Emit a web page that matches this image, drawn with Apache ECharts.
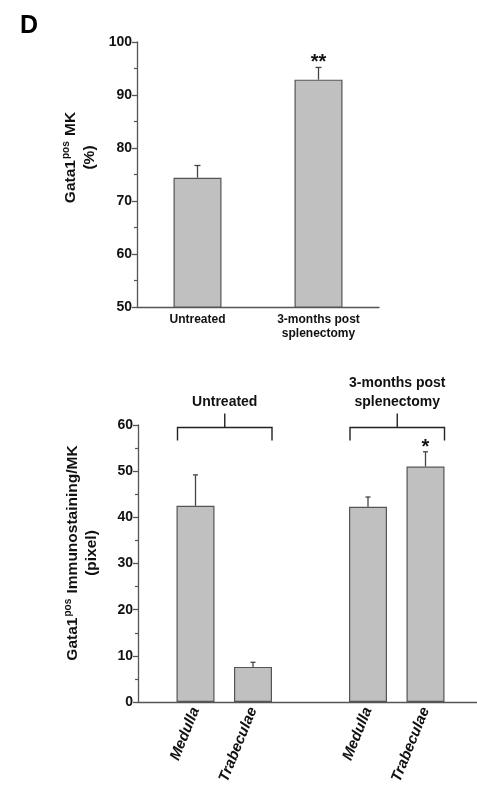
<!DOCTYPE html>
<html><head><meta charset="utf-8">
<script src="https://cdn.jsdelivr.net/npm/echarts@6/dist/echarts.min.js"></script>
<style>html,body{margin:0;padding:0;background:#fff}#c{width:477px;height:790px}</style>
</head><body><div id="c"></div>
<script>
// ---- Top panel data ----
const topCategories = ['Untreated', '3-months post\nsplenectomy'];
const topMeans = [74.4, 92.9];
const topErrors = [2.3, 2.3];
const topMarks = ['', '**'];
const topYTicks = [50, 60, 70, 80, 90, 100];

// ---- Bottom panel data ----
const groupNames = ['Untreated', '3-months post\nsplenectomy'];
const tissueNames = ['Medulla', 'Trabeculae'];
const untreatedMeans = [42.5, 7.6];
const untreatedErrors = [6.7, 1.0];
const untreatedMarks = ['', ''];
const splenectomyMeans = [42.3, 51.0];
const splenectomyErrors = [2.1, 3.2];
const splenectomyMarks = ['', '*'];
const bottomYTicks = [0, 10, 20, 30, 40, 50, 60];

const FONT = "'Liberation Sans', Arial, sans-serif";
const AX = '#555';
const BAR = '#c0c0c0';

// Build bottom category layout: blank, group items, blank, group items, blank
const groupMeans = [untreatedMeans, splenectomyMeans];
const groupErrors = [untreatedErrors, splenectomyErrors];
const groupMarks = [untreatedMarks, splenectomyMarks];
const bottomCats = [''];
const bottomBar = ['-'];
const bottomErr = [];
const bottomErrMarks = [];
const groupSpans = [];
groupNames.forEach((g, gi) => {
  const start = bottomCats.length;
  tissueNames.forEach((t, ti) => {
    bottomErr.push([bottomCats.length, groupMeans[gi][ti], groupErrors[gi][ti]]);
    bottomErrMarks.push(groupMarks[gi][ti]);
    bottomCats.push(t);
    bottomBar.push(groupMeans[gi][ti]);
  });
  groupSpans.push([start, bottomCats.length - 1]);
  bottomCats.push('');
  bottomBar.push('-');
});

const topErr = topMeans.map((m, i) => [i, m, topErrors[i]]);

function errRender(marks, capHalf, markSize, markOffset) {
  return function (params, api) {
    const i = api.value(0), v = api.value(1), e = api.value(2);
    const b = api.coord([i, v]);
    const t = api.coord([i, v + e]);
    const st = { stroke: '#444', lineWidth: 1.3 };
    const ch = [
      { type: 'line', shape: { x1: b[0], y1: b[1], x2: t[0], y2: t[1] }, style: st },
      { type: 'line', shape: { x1: t[0] - capHalf, y1: t[1], x2: t[0] + capHalf, y2: t[1] }, style: st }
    ];
    const m = marks[params.dataIndex];
    if (m) {
      ch.push({ type: 'text', style: { text: m, x: t[0], y: t[1] - markOffset, align: 'center', verticalAlign: 'middle',
        font: 'bold ' + markSize + 'px ' + FONT, fill: '#111' } });
    }
    return { type: 'group', children: ch };
  };
}

function bracketRender(params, api) {
  const span = groupSpans[params.dataIndex];
  const yMax = bottomYTicks[bottomYTicks.length - 1];
  const a = api.coord([span[0], yMax]);
  const c = api.coord([span[1], yMax]);
  const x1 = a[0] - 18, x2 = c[0] + 19, y = a[1] + 2.5;
  const mid = (x1 + x2) / 2;
  const st = { stroke: '#222', lineWidth: 1.4, fill: null };
  return {
    type: 'group', children: [
      { type: 'polyline', shape: { points: [[x1, y + 13], [x1, y], [x2, y], [x2, y + 13]] }, style: st },
      { type: 'line', shape: { x1: mid, y1: y, x2: mid, y2: y - 14 }, style: st },
      { type: 'text', style: { text: groupNames[params.dataIndex], x: mid, y: y - 16, align: 'center', verticalAlign: 'bottom',
        font: 'bold 14px ' + FONT, fill: '#111', lineHeight: 19 } }
    ]
  };
}

function yTitleRich(size) {
  return {
    n: { fontFamily: FONT, fontWeight: 'bold', fontSize: size, color: '#111', lineHeight: 19 },
    s: { fontFamily: FONT, fontWeight: 'bold', fontSize: Math.round(size * 0.65), color: '#111', lineHeight: 19, verticalAlign: 'top', padding: [0, 1, 0, 1] }
  };
}

const chart = echarts.init(document.getElementById('c'), null, { renderer: 'canvas' });
chart.setOption({
  animation: false,
  backgroundColor: '#fff',
  title: { text: 'D', left: 15, top: 9, textStyle: { fontFamily: FONT, fontWeight: 'bold', fontSize: 25, color: '#000' } },
  grid: [
    { left: 137, top: 42, width: 242, height: 265, outerBoundsMode: 'none', containLabel: false },
    { left: 138, top: 425, width: 345, height: 277, outerBoundsMode: 'none', containLabel: false }
  ],
  xAxis: [
    { gridIndex: 0, type: 'category', data: topCategories, boundaryGap: true,
      axisLine: { lineStyle: { color: AX, width: 1.3 } }, axisTick: { show: false },
      axisLabel: { fontFamily: FONT, fontWeight: 'bold', fontSize: 12, color: '#111', margin: 6, lineHeight: 14, interval: 0 } },
    { gridIndex: 1, type: 'category', data: bottomCats, boundaryGap: false,
      axisLine: { lineStyle: { color: AX, width: 1.3 } }, axisTick: { show: false },
      axisLabel: { fontFamily: FONT, fontWeight: 'bold', fontStyle: 'italic', fontSize: 15, color: '#111', rotate: 68, margin: 6, interval: 0 } }
  ],
  yAxis: [
    { gridIndex: 0, type: 'value', min: topYTicks[0], max: topYTicks[topYTicks.length - 1], interval: topYTicks[1] - topYTicks[0],
      splitLine: { show: false },
      axisLine: { show: true, lineStyle: { color: AX, width: 1.3 } },
      axisTick: { show: true, length: 5, lineStyle: { color: AX, width: 1.3 } },
      minorTick: { show: true, splitNumber: 2, length: 3, lineStyle: { color: AX, width: 1.2 } },
      axisLabel: { fontFamily: FONT, fontWeight: 'bold', fontSize: 14, color: '#111', margin: 5 },
      name: '{n|Gata1}{s|pos}{n| MK}\n{n|(%)}', nameLocation: 'middle', nameGap: 37,
      nameTextStyle: { rich: yTitleRich(15.5), padding: [0, 0, 0, 34] } },
    { gridIndex: 1, type: 'value', min: bottomYTicks[0], max: bottomYTicks[bottomYTicks.length - 1], interval: bottomYTicks[1] - bottomYTicks[0],
      splitLine: { show: false },
      axisLine: { show: true, lineStyle: { color: AX, width: 1.3 } },
      axisTick: { show: true, length: 5, lineStyle: { color: AX, width: 1.3 } },
      minorTick: { show: true, splitNumber: 2, length: 3, lineStyle: { color: AX, width: 1.2 } },
      axisLabel: { fontFamily: FONT, fontWeight: 'bold', fontSize: 14, color: '#111', margin: 5 },
      name: '{n|Gata1}{s|pos}{n| Immunostaining/MK}\n{n|(pixel)}', nameLocation: 'middle', nameGap: 37,
      nameTextStyle: { rich: yTitleRich(15.5), padding: [0, 0, 0, 21] } }
  ],
  series: [
    { type: 'bar', xAxisIndex: 0, yAxisIndex: 0, data: topMeans, barWidth: 48,
      itemStyle: { color: BAR, borderColor: '#555', borderWidth: 1.2 } },
    { type: 'custom', xAxisIndex: 0, yAxisIndex: 0, data: topErr, clip: false, z: 5,
      renderItem: errRender(topMarks, 3, 20, 5) },
    { type: 'bar', xAxisIndex: 1, yAxisIndex: 1, data: bottomBar, barWidth: 38,
      itemStyle: { color: BAR, borderColor: '#555', borderWidth: 1.2 } },
    { type: 'custom', xAxisIndex: 1, yAxisIndex: 1, data: bottomErr, clip: false, z: 5,
      renderItem: errRender(bottomErrMarks, 2.5, 20, 4) },
    { type: 'custom', xAxisIndex: 1, yAxisIndex: 1, data: groupSpans.map((s, i) => [s[0], s[1], i]), clip: false, z: 5,
      renderItem: bracketRender }
  ]
});
</script></body></html>
